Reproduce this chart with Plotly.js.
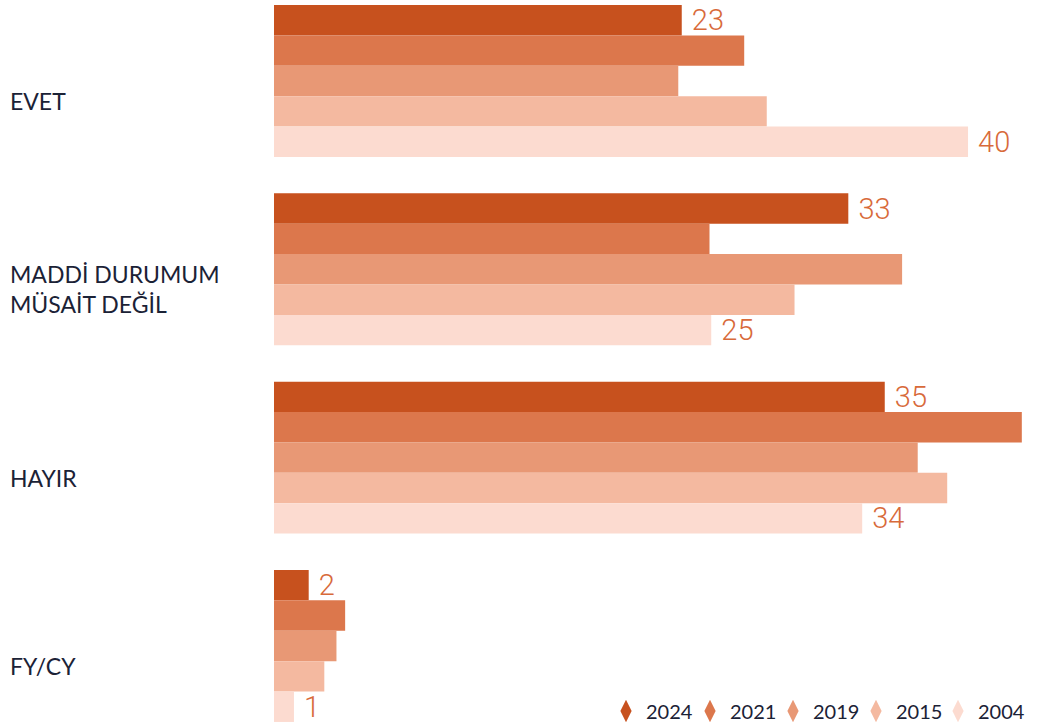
<!DOCTYPE html>
<html>
<head>
<meta charset="utf-8">
<script src="https://cdn.plot.ly/plotly-3.0.1.min.js"></script>
<style>html,body{margin:0;padding:0;background:#fff;}#chart{width:1039px;height:726px;}</style>
</head>
<body>
<div id="chart"></div>
<script>
var categories = ['EVET', 'MADDİ DURUMUM<br>MÜSAİT DEĞİL', 'HAYIR', 'FY/CY'];
var years = ['2024', '2021', '2019', '2015', '2004'];
var v2024 = [23.5, 33.1, 35.2, 2.0];
var v2021 = [27.1, 25.1, 43.1, 4.1];
var v2019 = [23.3, 36.2, 37.1, 3.6];
var v2015 = [28.4, 30.0, 38.8, 2.9];
var v2004 = [40.0, 25.2, 33.9, 1.15];
var labels2024 = ['23', '33', '35', '2'];
var labels2004 = ['40', '25', '34', '1'];
var noLabels = ['', '', '', ''];

var colors = ['#C7511E', '#DC774C', '#E89875', '#F4B9A0', '#FCDBD0'];
var series = [v2024, v2021, v2019, v2015, v2004];
var labelSets = [labels2024, noLabels, noLabels, noLabels, labels2004];
var legendNames = ['legend', 'legend2', 'legend3', 'legend4', 'legend5'];
var legendX = [0.4340, 0.5438, 0.6523, 0.7608, 0.8680];

var traces = [];
series.forEach(function (vals, i) {
  traces.push({
    type: 'bar', orientation: 'h', name: years[i],
    x: vals, y: categories,
    text: labelSets[i],
    texttemplate: '\u00a0%{text}',
    textposition: 'outside',
    constraintext: 'none',
    cliponaxis: false,
    textfont: {family: '"Liberation Sans Narrow", Roboto, sans-serif', size: 29, weight: 300, color: '#D86A3A'},
    marker: {color: colors[i], line: {width: 0}},
    showlegend: false,
    hoverinfo: 'skip'
  });
});
years.forEach(function (yr, i) {
  traces.push({
    type: 'scatter', mode: 'markers', name: yr,
    x: [null], y: [null],
    marker: {symbol: 'diamond-tall', size: 24, color: colors[i]},
    showlegend: true, legend: legendNames[i], hoverinfo: 'skip'
  });
});

var annotations = categories.map(function (c) {
  return {
    text: c, xref: 'paper', x: -0.3477, xanchor: 'left',
    yref: 'y', y: c, yanchor: 'middle', yshift: -20,
    align: 'left', showarrow: false,
    font: {family: 'Lato, "Noto Sans", sans-serif', size: 23, color: '#1B2236'}
  };
});

var layout = {
  width: 1039, height: 726,
  margin: {l: 274, r: 0, t: 0, b: 0, pad: 0, autoexpand: false},
  paper_bgcolor: '#ffffff', plot_bgcolor: '#ffffff',
  barmode: 'group', bargap: 0.193, bargroupgap: 0,
  xaxis: {range: [0, 44.09], visible: false, showgrid: false, zeroline: false, fixedrange: true},
  yaxis: {type: 'category', categoryarray: categories, range: [3.425, -0.430], showticklabels: false,
          showgrid: false, zeroline: false, showline: false, ticks: '', fixedrange: true},
  showlegend: true,
  annotations: annotations,
  hovermode: false
};
legendNames.forEach(function (ln, i) {
  layout[ln] = {
    orientation: 'h', x: legendX[i], xanchor: 'left', y: 0.0207, yanchor: 'middle',
    font: {family: 'Lato, "Noto Sans", sans-serif', size: 20, color: '#1B2236'},
    bgcolor: 'rgba(0,0,0,0)', borderwidth: 0, itemsizing: 'trace'
  };
});

Plotly.newPlot('chart', traces, layout, {displayModeBar: false, staticPlot: true});
</script>
</body>
</html>
